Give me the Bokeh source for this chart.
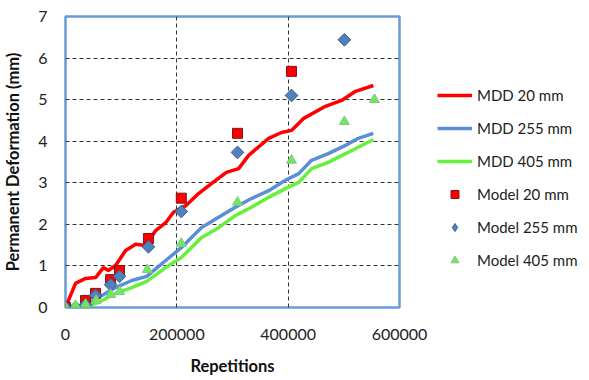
import math
from bokeh.plotting import figure
from bokeh.models import Range1d, Legend, LegendItem, BasicTickFormatter, FixedTicker
from bokeh.embed import file_html
from bokeh.resources import INLINE

# MDD measured curves
mdd20_x = [0, 18000, 36000, 54000, 68000, 77000, 90000, 108000, 126000, 144000, 162000, 180000,
           194000, 216000, 239000, 262000, 289000, 311000, 329000, 365000, 388000, 406000,
           428000, 467000, 496000, 521000, 553000]
mdd20_y = [0, 0.58, 0.70, 0.72, 0.96, 0.89, 1.01, 1.37, 1.52, 1.49, 1.85, 2.04,
           2.29, 2.45, 2.74, 2.98, 3.25, 3.34, 3.66, 4.07, 4.21, 4.26,
           4.55, 4.84, 4.98, 5.20, 5.34]
mdd255_x = [0, 36000, 59000, 90000, 119000, 146000, 180000, 208000, 244000, 275000, 305000,
            334000, 365000, 395000, 419000, 442000, 472000, 503000, 526000, 553000]
mdd255_y = [0, 0.05, 0.24, 0.48, 0.65, 0.75, 1.13, 1.44, 1.92, 2.17, 2.41,
            2.62, 2.81, 3.06, 3.22, 3.54, 3.70, 3.90, 4.07, 4.19]
mdd405_x = [0, 36000, 59000, 90000, 119000, 146000, 180000, 208000, 244000, 275000, 305000,
            334000, 365000, 395000, 419000, 442000, 472000, 503000, 553000]
mdd405_y = [0, 0.02, 0.12, 0.34, 0.48, 0.63, 0.96, 1.20, 1.68, 1.92, 2.21,
            2.41, 2.65, 2.86, 3.01, 3.34, 3.49, 3.70, 4.04]

# Model predictions
model20_x = [0, 36000, 54000, 81000, 97000, 149000, 208000, 309000, 406000]
model20_y = [0, 0.17, 0.34, 0.67, 0.89, 1.66, 2.63, 4.19, 5.68]
model255_x = [0, 18000, 36000, 54000, 81000, 97000, 149000, 208000, 309000, 406000, 501000]
model255_y = [0, 0.0, 0.07, 0.29, 0.55, 0.75, 1.46, 2.31, 3.73, 5.10, 6.44]
model405_x = [0, 18000, 36000, 55000, 81000, 97000, 147000, 208000, 309000, 406000, 501000, 555000]
model405_y = [0, 0.05, 0.07, 0.17, 0.31, 0.38, 0.91, 1.54, 2.53, 3.54, 4.47, 5.00]

x_ticks = [0, 200000, 400000, 600000]
y_ticks = [0, 1, 2, 3, 4, 5, 6, 7]

FONT = "Lato"
NAN = float("nan")

p = figure(output_backend="svg", toolbar_location=None,
           frame_width=334, frame_height=291,
           min_border_left=63, min_border_top=16, min_border_bottom=64, min_border_right=0,
           x_range=Range1d(0, 600000), y_range=Range1d(0, 7))
p.background_fill_color = "white"
p.border_fill_color = "white"
p.outline_line_color = "#6b9bd6"
p.outline_line_width = 2.5

for ax in (p.xaxis[0], p.yaxis[0]):
    ax.axis_line_color = None
    ax.major_tick_line_color = None
    ax.minor_tick_line_color = None
    ax.major_label_text_font = FONT
    ax.major_label_text_font_size = "16px"
    ax.major_label_text_color = "#222222"
    ax.axis_label_text_font = FONT
    ax.axis_label_text_font_style = "bold"
    ax.axis_label_text_font_size = "16.5px"
    ax.axis_label_text_color = "#111111"

p.xaxis[0].ticker = FixedTicker(ticks=x_ticks)
p.yaxis[0].ticker = FixedTicker(ticks=y_ticks)
p.xaxis[0].formatter = BasicTickFormatter(use_scientific=False)
p.xaxis[0].major_label_standoff = 15
p.yaxis[0].major_label_standoff = 12
p.xaxis[0].axis_label = "Repetitions"
p.yaxis[0].axis_label = "Permanent Deformation (mm)"
p.xaxis[0].axis_label_standoff = 13
p.yaxis[0].axis_label_standoff = 12

for g in (p.xgrid[0], p.ygrid[0]):
    g.grid_line_color = "#333333"
    g.grid_line_dash = "4 3"
    g.grid_line_width = 1

r1 = p.line(mdd20_x, mdd20_y, line_color="#ff0000", line_width=3.5)
r2 = p.line(mdd255_x, mdd255_y, line_color="#5a8fd8", line_width=3.5)
r3 = p.line(mdd405_x, mdd405_y, line_color="#66f03a", line_width=3.5)
r4 = p.scatter(model20_x, model20_y, marker="square", size=10, fill_color="#ff0000",
               line_color="#7a1a1a", line_width=1)
p.rect(model255_x, model255_y, width=9, height=9, width_units="screen",
       height_units="screen", angle=math.pi / 4,
       fill_color="#4f81bd", line_color="#385d8a", line_width=1)
# legend-only glyph for the diamond series (no visible point)
r5 = p.scatter([NAN], [NAN], marker="diamond", size=13,
               fill_color="#4f81bd", line_color="#385d8a", line_width=1)
r6 = p.scatter(model405_x, model405_y, marker="triangle", size=10, fill_color="#66ee55",
               line_color="#8fc08f", line_width=1)

legend = Legend(items=[
    LegendItem(label="MDD 20 mm", renderers=[r1]),
    LegendItem(label="MDD 255 mm", renderers=[r2]),
    LegendItem(label="MDD 405 mm", renderers=[r3]),
    LegendItem(label="Model 20 mm", renderers=[r4]),
    LegendItem(label="Model 255 mm", renderers=[r5]),
    LegendItem(label="Model 405 mm", renderers=[r6]),
], location=(38, 37))
legend.border_line_color = None
legend.background_fill_alpha = 0
legend.margin = 0
legend.padding = 0
legend.glyph_width = 35
legend.glyph_height = 20
legend.label_height = 20
legend.spacing = 13
legend.label_standoff = 5
legend.label_text_font = FONT
legend.label_text_font_size = "15px"
legend.label_text_color = "#222222"
p.add_layout(legend, "right")

open("out.html", "w").write(file_html(p, INLINE))
